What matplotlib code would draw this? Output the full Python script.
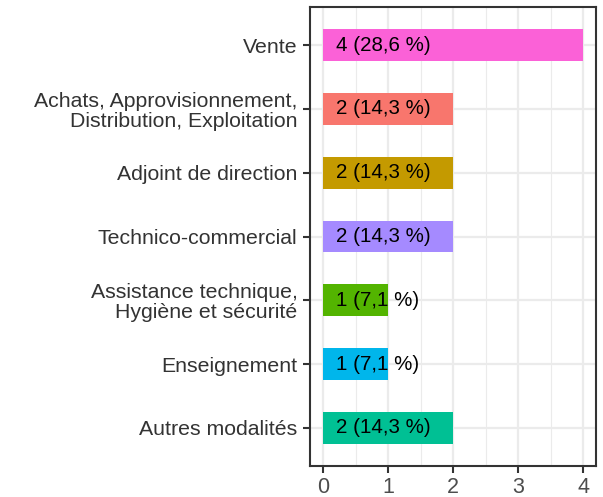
import matplotlib.pyplot as plt
import numpy as np

plt.rcParams['font.family'] = ['Liberation Sans', 'DejaVu Sans']

categories = ['Vente', 'Achats, Approvisionnement,\nDistribution, Exploitation',
              'Adjoint de direction', 'Technico-commercial',
              'Assistance technique,\nHygiène et sécurité', 'Enseignement',
              'Autres modalités']
counts = [4, 2, 2, 2, 1, 1, 2]
labels = ['4 (28,6 %)', '2 (14,3 %)', '2 (14,3 %)', '2 (14,3 %)',
          '1 (7,1 %)', '1 (7,1 %)', '2 (14,3 %)']
colors = ['#FB61D7', '#F8766D', '#C49A00', '#A58AFF', '#53B400', '#00B6EB', '#00C094']

fig = plt.figure(figsize=(6.03, 4.97), dpi=100)
ax = fig.add_axes([310 / 603, 1 - 466 / 497, 286 / 603, 459 / 497])

y = np.arange(len(categories), 0, -1)
ax.barh(y, counts, height=0.5, color=colors, zorder=2)
for yi, lab in zip(y, labels):
    ax.text(0.2, yi, lab, va='center', ha='left', fontsize=14.8, color='black', zorder=3)

ax.set_xlim(-0.2, 4.2)
ax.set_ylim(0.4, 7.6)
ax.set_yticks(y)
ax.set_yticklabels(categories, fontsize=15.3, color='#4D4D4D', linespacing=1.08)
ax.set_xticks([0, 1, 2, 3, 4])
ax.set_xticks([0.5, 1.5, 2.5, 3.5], minor=True)
ax.tick_params(axis='x', labelsize=15.5, colors='#333333', labelcolor='#4D4D4D',
               length=5, width=1.5, pad=3)
ax.tick_params(axis='y', colors='#333333', length=5, width=1.5, pad=4)
ax.tick_params(axis='x', which='minor', length=0)
ax.grid(True, which='major', color='#EBEBEB', linewidth=1.6, zorder=0)
ax.grid(True, which='minor', axis='x', color='#EBEBEB', linewidth=0.8, zorder=0)
ax.set_axisbelow(True)
for s in ax.spines.values():
    s.set_color('#333333')
    s.set_linewidth(1.5)

fig.savefig('out.png', dpi=100)
